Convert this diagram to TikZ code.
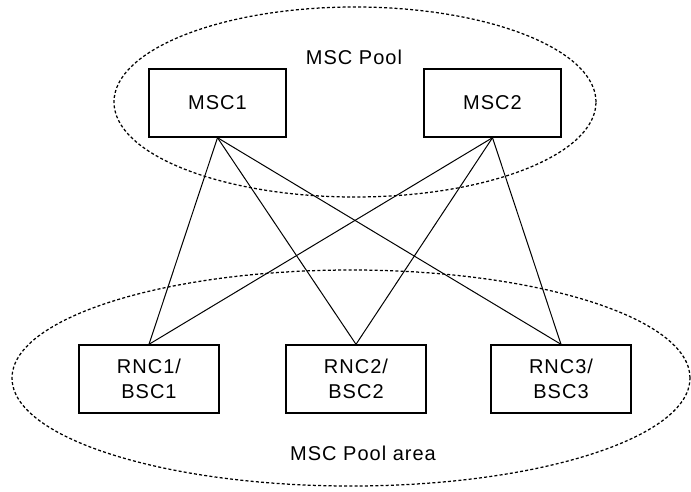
\documentclass[tikz,border=0pt]{standalone}
\usepackage{fontspec}
\setmainfont{Liberation Sans}[LetterSpace=5]
\begin{document}
\begin{tikzpicture}[x=1pt,y=-1pt,
  txt/.style={font=\fontsize{20}{25}\selectfont, inner sep=0pt},
  box/.style={txt, draw, line width=1.4pt, minimum height=68pt, align=center},
  mscbox/.style={box, minimum width=137pt},
  rncbox/.style={box, minimum width=140pt},
  pool/.style={draw, dash pattern=on 3pt off 2.2pt, line width=1.25pt},
  link/.style={line width=1pt}]
\useasboundingbox (0,0) rectangle (691,491);

% pool outlines
\draw[pool] (355,102) ellipse [x radius=241pt, y radius=95pt];
\draw[pool] (351,378) ellipse [x radius=339pt, y radius=108pt];

% labels
\node[txt] (pooltxt) at (354,57) {MSC Pool};
\node[txt] (areatxt) at (363,453) {MSC Pool area};

% switching centres
\node[mscbox] (msc1) at (217.5,103) {MSC1};
\node[mscbox] (msc2) at (492.5,103) {MSC2};

% radio controllers
\node[rncbox] (rnc1) at (149,379) {RNC1/\\BSC1};
\node[rncbox] (rnc2) at (356,379) {RNC2/\\BSC2};
\node[rncbox] (rnc3) at (561,379) {RNC3/\\BSC3};

% full mesh between the pool and the controllers
\foreach \m in {msc1,msc2}
  \foreach \r in {rnc1,rnc2,rnc3}
    \draw[link] (\m.south) -- (\r.north);
\end{tikzpicture}
\end{document}
